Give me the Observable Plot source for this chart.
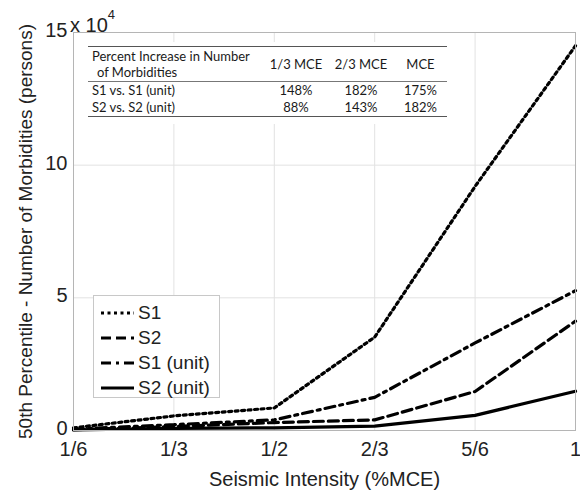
<!DOCTYPE html>
<html><head><meta charset="utf-8">
<script src="https://cdn.jsdelivr.net/npm/d3@7"></script>
<script src="https://cdn.jsdelivr.net/npm/@observablehq/plot@0.6"></script>
<style>
body{margin:0;background:#fff;}
#wrap{position:relative;width:580px;height:492px;font-family:"Liberation Sans",Arial,sans-serif;color:#222;}
#wrap svg{display:block;}
#wrap svg g[aria-label="y-axis label"] text{font-size:19px !important;}
#exp{position:absolute;left:70px;top:15px;font-size:20px;line-height:20px;white-space:nowrap;}
#exp sup{font-size:13px;position:relative;top:-13px;vertical-align:baseline;line-height:0;}
#legend{position:absolute;left:93px;top:295px;width:127px;height:103px;border:1px solid #c8c8c8;background:#fff;box-sizing:border-box;padding:4px 0 0 6px;}
.li{display:flex;align-items:center;height:25px;font-size:19px;white-space:nowrap;}
.li svg{margin-right:4px;}
#tbl{position:absolute;left:86px;top:42px;width:364px;height:82px;background:#fff;}
#tbl table{position:absolute;left:2px;top:4px;width:359px;border-collapse:collapse;font-family:Lato,"Open Sans",sans-serif;font-size:13px;color:#1a1a1a;}
#tbl td{padding:0;line-height:17px;}
#tbl tr.h td{border-top:1.5px solid #555;border-bottom:1px solid #777;padding:1px 0 1px 0;}
#tbl tr.last td{border-bottom:1.5px solid #555;}
</style></head><body><div id="wrap"></div>
<script>
// x positions (fraction of MCE) and their tick labels
const xTicks = [1/6, 1/3, 1/2, 2/3, 5/6, 1];
const xTickLabels = ["1/6", "1/3", "1/2", "2/3", "5/6", "1"];
const yTicks = [0, 5, 10, 15];
// values in units of 10^4 persons
const s1     = [0.10, 0.55, 0.85, 3.52, 9.20, 14.50];
const s2     = [0.03, 0.15, 0.30, 0.40, 1.47, 4.12];
const s1unit = [0.05, 0.22, 0.40, 1.25, 3.30, 5.27];
const s2unit = [0.02, 0.08, 0.10, 0.165, 0.57, 1.48];
const seriesNames = ["S1", "S2", "S1 (unit)", "S2 (unit)"];
const seriesDash = ["3 3.5", "10 5", "10 5 3 5", null];
// inset table
const tableHeader = "Percent Increase in Number";
const tableHeader2 = "of Morbidities";
const tableCols = ["1/3 MCE", "2/3 MCE", "MCE"];
const tableRows = ["S1 vs. S1 (unit)", "S2 vs. S2 (unit)"];
const tableValues = [[148, 182, 175], [88, 143, 182]];

const seriesValues = [s1, s2, s1unit, s2unit];

const chart = Plot.plot({
  width: 580, height: 492,
  marginLeft: 73, marginRight: 5, marginTop: 32, marginBottom: 62,
  style: {fontSize: "20px", fontFamily: "'Liberation Sans', Arial, sans-serif", color: "#222", background: "#fff"},
  x: {domain: [1/6, 1]},
  y: {domain: [0, 15]},
  marks: [
    Plot.gridX(xTicks, {stroke: "#e2e2e2", strokeOpacity: 1}),
    Plot.gridY(yTicks, {stroke: "#e2e2e2", strokeOpacity: 1}),
    ...seriesValues.map((vals, k) => Plot.line(vals.map((v, i) => ({x: xTicks[i], y: v})), {
      x: "x", y: "y", stroke: "#000", strokeWidth: 3.2,
      strokeDasharray: seriesDash[k] ?? undefined, strokeLinejoin: "miter"
    })),
    Plot.frame({stroke: "#b5b5b5"}),
    Plot.axisX(xTicks, {tickFormat: (d, i) => xTickLabels[i], tickSize: 0, tickPadding: 11, fontSize: 20,
      label: "Seismic Intensity (%MCE)", labelAnchor: "center", labelArrow: "none", labelOffset: 55}),
    Plot.axisY(yTicks, {tickSize: 0, tickPadding: 6, fontSize: 20, dy: -2,
      label: "50th Percentile - Number of Morbidities (persons)", labelAnchor: "center", labelArrow: "none", labelOffset: 55})
  ]
});
const wrap = document.getElementById("wrap");
wrap.appendChild(chart);

// exponent label
const exp = document.createElement("div");
exp.id = "exp";
exp.innerHTML = "x 10<sup>4</sup>";
wrap.appendChild(exp);

// legend
const lg = document.createElement("div");
lg.id = "legend";
seriesNames.forEach((n, k) => {
  const d = seriesDash[k];
  lg.insertAdjacentHTML("beforeend",
    `<div class="li"><svg width="34" height="10"><line x1="1" y1="5" x2="34" y2="5" stroke="#000" stroke-width="3" ${d ? `stroke-dasharray="${d}"` : ""}/></svg><span>${n}</span></div>`);
});
wrap.appendChild(lg);

// inset table
const tb = document.createElement("div");
tb.id = "tbl";
let html = `<table><colgroup><col style="width:176px"><col style="width:64px"><col style="width:66px"><col style="width:53px"></colgroup>`;
html += `<tr class="h"><td style="padding-left:4px;line-height:16px">${tableHeader}<br><span style="padding-left:5px">${tableHeader2}</span></td>` +
  tableCols.map(c => `<td style="text-align:center">${c}</td>`).join("") + `</tr>`;
tableRows.forEach((r, i) => {
  html += `<tr class="${i === tableRows.length - 1 ? "last" : ""}"><td style="padding-left:4px">${r}</td>` +
    tableValues[i].map(v => `<td style="text-align:center">${v}%</td>`).join("") + `</tr>`;
});
html += `</table>`;
tb.innerHTML = html;
wrap.appendChild(tb);
</script></body></html>
